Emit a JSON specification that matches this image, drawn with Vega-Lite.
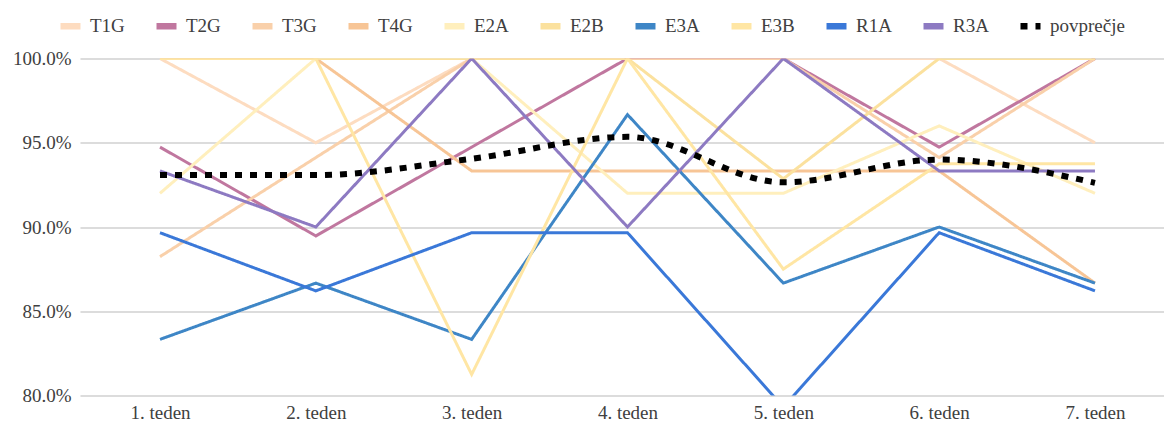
{
  "$schema": "https://vega.github.io/schema/vega-lite/v6.json",
  "autosize": {"type": "none"},
  "width": 1084,
  "height": 337,
  "padding": {"left": 80, "top": 58.5, "right": 0, "bottom": 27.5},
  "background": "white",
  "config": {
    "view": {"stroke": null},
    "font": "Liberation Serif, Times New Roman, serif",
    "axis": {"labelFont": "Liberation Serif, Times New Roman, serif", "labelFontSize": 19, "labelColor": "#404040"},
    "legend": {"labelFont": "Liberation Serif, Times New Roman, serif", "labelFontSize": 19, "labelColor": "#404040"}
  },
  "data": {
    "values": [
      {"series": "T1G", "week": 1, "value": 1.0},
      {"series": "T1G", "week": 2, "value": 0.95},
      {"series": "T1G", "week": 3, "value": 1.0},
      {"series": "T1G", "week": 4, "value": 1.0},
      {"series": "T1G", "week": 5, "value": 1.0},
      {"series": "T1G", "week": 6, "value": 1.0},
      {"series": "T1G", "week": 7, "value": 0.95},
      {"series": "T2G", "week": 1, "value": 0.9474},
      {"series": "T2G", "week": 2, "value": 0.8947},
      {"series": "T2G", "week": 3, "value": 0.9474},
      {"series": "T2G", "week": 4, "value": 1.0},
      {"series": "T2G", "week": 5, "value": 1.0},
      {"series": "T2G", "week": 6, "value": 0.9474},
      {"series": "T2G", "week": 7, "value": 1.0},
      {"series": "T3G", "week": 1, "value": 0.8824},
      {"series": "T3G", "week": 2, "value": 0.9412},
      {"series": "T3G", "week": 3, "value": 1.0},
      {"series": "T3G", "week": 4, "value": 1.0},
      {"series": "T3G", "week": 5, "value": 1.0},
      {"series": "T3G", "week": 6, "value": 0.9412},
      {"series": "T3G", "week": 7, "value": 1.0},
      {"series": "T4G", "week": 1, "value": 1.0},
      {"series": "T4G", "week": 2, "value": 1.0},
      {"series": "T4G", "week": 3, "value": 0.9333},
      {"series": "T4G", "week": 4, "value": 0.9333},
      {"series": "T4G", "week": 5, "value": 0.9333},
      {"series": "T4G", "week": 6, "value": 0.9333},
      {"series": "T4G", "week": 7, "value": 0.8667},
      {"series": "E2A", "week": 1, "value": 0.92},
      {"series": "E2A", "week": 2, "value": 1.0},
      {"series": "E2A", "week": 3, "value": 1.0},
      {"series": "E2A", "week": 4, "value": 0.92},
      {"series": "E2A", "week": 5, "value": 0.92},
      {"series": "E2A", "week": 6, "value": 0.96},
      {"series": "E2A", "week": 7, "value": 0.92},
      {"series": "E2B", "week": 1, "value": 1.0},
      {"series": "E2B", "week": 2, "value": 1.0},
      {"series": "E2B", "week": 3, "value": 1.0},
      {"series": "E2B", "week": 4, "value": 1.0},
      {"series": "E2B", "week": 5, "value": 0.9286},
      {"series": "E2B", "week": 6, "value": 1.0},
      {"series": "E2B", "week": 7, "value": 1.0},
      {"series": "E3A", "week": 1, "value": 0.8333},
      {"series": "E3A", "week": 2, "value": 0.8667},
      {"series": "E3A", "week": 3, "value": 0.8333},
      {"series": "E3A", "week": 4, "value": 0.9667},
      {"series": "E3A", "week": 5, "value": 0.8667},
      {"series": "E3A", "week": 6, "value": 0.9},
      {"series": "E3A", "week": 7, "value": 0.8667},
      {"series": "E3B", "week": 1, "value": 1.0},
      {"series": "E3B", "week": 2, "value": 1.0},
      {"series": "E3B", "week": 3, "value": 0.8125},
      {"series": "E3B", "week": 4, "value": 1.0},
      {"series": "E3B", "week": 5, "value": 0.875},
      {"series": "E3B", "week": 6, "value": 0.9375},
      {"series": "E3B", "week": 7, "value": 0.9375},
      {"series": "R1A", "week": 1, "value": 0.8966},
      {"series": "R1A", "week": 2, "value": 0.8621},
      {"series": "R1A", "week": 3, "value": 0.8966},
      {"series": "R1A", "week": 4, "value": 0.8966},
      {"series": "R1A", "week": 5, "value": 0.7931},
      {"series": "R1A", "week": 6, "value": 0.8966},
      {"series": "R1A", "week": 7, "value": 0.8621},
      {"series": "R3A", "week": 1, "value": 0.9333},
      {"series": "R3A", "week": 2, "value": 0.9},
      {"series": "R3A", "week": 3, "value": 1.0},
      {"series": "R3A", "week": 4, "value": 0.9},
      {"series": "R3A", "week": 5, "value": 1.0},
      {"series": "R3A", "week": 6, "value": 0.9333},
      {"series": "R3A", "week": 7, "value": 0.9333},
      {"series": "povprečje", "week": 1, "value": 0.9308},
      {"series": "povprečje", "week": 2, "value": 0.9308},
      {"series": "povprečje", "week": 3, "value": 0.9405},
      {"series": "povprečje", "week": 4, "value": 0.9535},
      {"series": "povprečje", "week": 5, "value": 0.9265},
      {"series": "povprečje", "week": 6, "value": 0.9400},
      {"series": "povprečje", "week": 7, "value": 0.9262}
    ]
  },
  "encoding": {
    "x": {
      "field": "week", "type": "quantitative",
      "scale": {"domain": [0.4866, 7.443], "nice": false, "zero": false},
      "axis": {
        "title": null, "values": [1, 2, 3, 4, 5, 6, 7],
        "labelExpr": "datum.value + '. teden'",
        "grid": false, "domain": false, "ticks": false, "labelPadding": 8
      }
    },
    "y": {
      "field": "value", "type": "quantitative",
      "scale": {"domain": [0.8, 1.0], "nice": false, "zero": false},
      "axis": {
        "title": null, "values": [0.8, 0.85, 0.9, 0.95, 1.0], "format": ".1%",
        "grid": true, "gridColor": "#d0d0d0", "gridWidth": 1.5,
        "domain": false, "ticks": false, "labelPadding": 9
      }
    },
    "color": {
      "field": "series", "type": "nominal",
      "scale": {
        "domain": ["T1G", "T2G", "T3G", "T4G", "E2A", "E2B", "E3A", "E3B", "R1A", "R3A", "povprečje"],
        "range": ["#fddcc0", "#c0779f", "#f9d0aa", "#f7c596", "#ffefbd", "#fbe19e", "#3e86c6", "#ffe6a4", "#3a78d8", "#8d7ac2", "#000000"]
      },
      "legend": {
        "title": null, "orient": "none", "direction": "horizontal",
        "legendX": -23, "legendY": -46,
        "symbolType": "stroke", "symbolStrokeWidth": 6.5, "symbolSize": 400,
        "labelOffset": 6, "columnPadding": 18, "symbolOpacity": 1
      }
    },
    "strokeDash": {
      "field": "series", "type": "nominal",
      "scale": {
        "domain": ["T1G", "T2G", "T3G", "T4G", "E2A", "E2B", "E3A", "E3B", "R1A", "R3A", "povprečje"],
        "range": [[1, 0], [1, 0], [1, 0], [1, 0], [1, 0], [1, 0], [1, 0], [1, 0], [1, 0], [1, 0], [7, 8]]
      },
      "legend": {
        "title": null, "orient": "none", "direction": "horizontal",
        "legendX": -23, "legendY": -46,
        "symbolType": "stroke", "symbolStrokeWidth": 6.5, "symbolSize": 400,
        "labelOffset": 6, "columnPadding": 18
      }
    }
  },
  "layer": [
    {
      "transform": [{"filter": "datum.series !== 'povprečje'"}],
      "mark": {"type": "line", "strokeWidth": 3, "clip": true, "strokeCap": "butt", "strokeJoin": "miter"}
    },
    {
      "transform": [{"filter": "datum.series === 'povprečje'"}],
      "mark": {"type": "line", "strokeWidth": 6, "interpolate": "monotone", "clip": true, "strokeCap": "butt"}
    }
  ]
}
